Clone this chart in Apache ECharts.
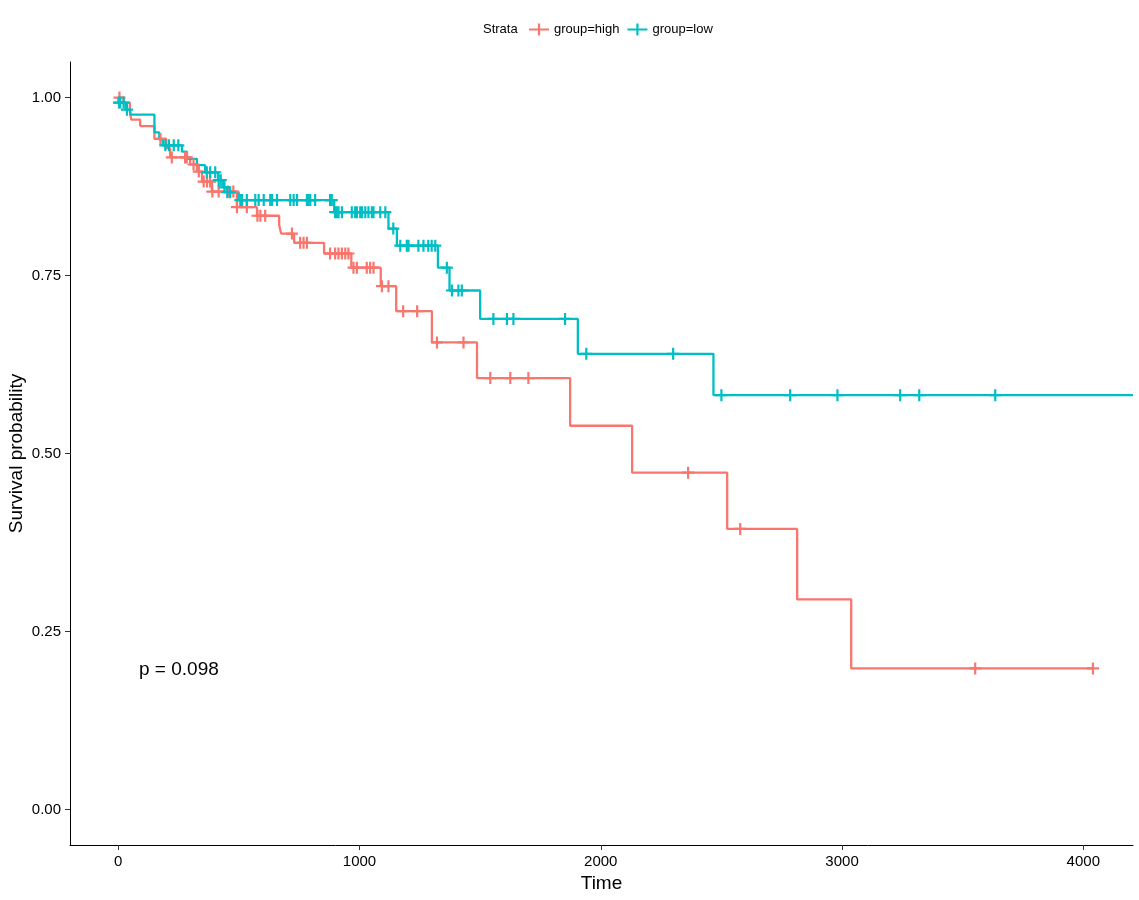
<!DOCTYPE html>
<html>
<head>
<meta charset="utf-8">
<script src="https://cdn.jsdelivr.net/npm/echarts@6/dist/echarts.min.js"></script>
<style>
html,body{margin:0;padding:0;background:#fff;}
#chart{width:1139px;height:900px;}
</style>
</head>
<body>
<div id="chart"></div>
<script>
// ---- data ----
const legendTitle = 'Strata';
const seriesNames = ['group=high', 'group=low'];
const seriesColors = ['#F8766D', '#00BFC4'];
const xTicks = [0, 1000, 2000, 3000, 4000];
const yTicks = [0, 0.25, 0.5, 0.75, 1];
const pText = 'p = 0.098';

// group=high step curve (time, survival after that time)
const highTime = [0, 22, 48, 54, 91, 150, 199, 215, 298, 326, 347, 388, 492, 575, 667, 675, 729, 853, 966, 1088, 1152, 1300, 1487, 1873, 2130, 2524, 2814, 3038, 4040];
const highSurv = [1.0, 0.993, 0.980, 0.969, 0.960, 0.942, 0.929, 0.916, 0.906, 0.896, 0.882, 0.868, 0.846, 0.834, 0.821, 0.809, 0.796, 0.781, 0.761, 0.735, 0.700, 0.656, 0.606, 0.539, 0.473, 0.394, 0.295, 0.198, 0.198];
const highCensor = [5, 175, 222, 277, 284, 312, 334, 354, 368, 381, 390, 416, 456, 477, 492, 533, 577, 589, 609, 720, 754, 768, 782, 878, 899, 913, 927, 941, 954, 975, 989, 1030, 1044, 1058, 1093, 1120, 1181, 1239, 1321, 1431, 1542, 1625, 1700, 2362, 2578, 3552, 4040];

// group=low step curve
const lowTime = [0, 2, 30, 50, 150, 170, 185, 264, 285, 326, 360, 414, 435, 450, 499, 895, 1120, 1155, 1325, 1373, 1500, 1905, 2467, 4206];
const lowSurv = [1.0, 0.993, 0.983, 0.976, 0.951, 0.941, 0.933, 0.924, 0.914, 0.905, 0.895, 0.884, 0.874, 0.867, 0.856, 0.839, 0.816, 0.792, 0.761, 0.729, 0.689, 0.640, 0.582, 0.582];
const lowCensor = [3, 8, 22, 36, 195, 210, 230, 249, 367, 381, 402, 416, 425, 440, 452, 464, 506, 513, 533, 568, 582, 603, 630, 637, 658, 713, 727, 741, 782, 789, 796, 816, 878, 885, 899, 906, 913, 927, 968, 982, 989, 1003, 1010, 1024, 1037, 1051, 1058, 1086, 1107, 1140, 1169, 1196, 1203, 1244, 1265, 1285, 1299, 1314, 1362, 1383, 1410, 1424, 1555, 1611, 1638, 1852, 1940, 2300, 2500, 2785, 2981, 3241, 3320, 3635];

// ---- helpers ----
function stepPoints(times, surv) {
  return times.map((t, i) => [t, surv[i]]);
}
function survAt(times, surv, t) {
  let v = surv[0];
  for (let i = 0; i < times.length; i++) { if (times[i] <= t) v = surv[i]; }
  return v;
}
function censorPoints(cens, times, surv) {
  return cens.map(t => [t, survAt(times, surv, t)]);
}

const plusSymbol = 'path://M0,4.9h12v2.2h-12z M4.9,0h2.2v12h-2.2z';
const legendIcon = 'path://M0,4.9h20v2.2h-20z M8.9,0h2.2v12h-2.2z';
const FONT = '"Liberation Sans", Arial, sans-serif';

const chart = echarts.init(document.getElementById('chart'), null, {renderer: 'canvas'});
chart.setOption({
  animation: false,
  backgroundColor: '#ffffff',
  textStyle: {fontFamily: FONT},
  grid: {left: 70, right: 6, top: 62, bottom: 55, containLabel: false, outerBoundsMode: 'none'},
  legend: {
    data: [
      {name: seriesNames[0], icon: legendIcon},
      {name: seriesNames[1], icon: legendIcon}
    ],
    left: 529, top: 23, padding: 0,
    itemWidth: 20, itemHeight: 12, itemGap: 8,
    textStyle: {fontFamily: FONT, fontSize: 13, color: '#000'}
  },
  graphic: [
    {type: 'text', left: 483, top: 23, style: {text: legendTitle, font: '13px ' + FONT, fill: '#000'}},
    {type: 'text', left: 139, top: 660, style: {text: pText, font: '19px ' + FONT, fill: '#000'}}
  ],
  xAxis: {
    type: 'value', min: -200, max: 4206,
    name: 'Time', nameLocation: 'middle', nameGap: 29, nameMoveOverlap: false,
    nameTextStyle: {fontFamily: FONT, fontSize: 19, color: '#000'},
    axisLine: {show: true, onZero: false, lineStyle: {color: '#000', width: 1}},
    axisTick: {show: true, length: 5, lineStyle: {color: '#333'}, customValues: xTicks},
    axisLabel: {fontFamily: FONT, fontSize: 15, color: '#000', margin: 9, customValues: xTicks,
      formatter: v => String(Math.round(v))},
    splitLine: {show: false}
  },
  yAxis: {
    type: 'value', min: -0.05, max: 1.05,
    name: 'Survival probability', nameLocation: 'middle', nameGap: 44, nameMoveOverlap: false,
    nameTextStyle: {fontFamily: FONT, fontSize: 19, color: '#000'},
    axisLine: {show: true, onZero: false, lineStyle: {color: '#000', width: 1}},
    axisTick: {show: true, length: 5, lineStyle: {color: '#333'}, customValues: yTicks},
    axisLabel: {fontFamily: FONT, fontSize: 15, color: '#000', margin: 9, customValues: yTicks,
      formatter: v => Number(v).toFixed(2)},
    splitLine: {show: false}
  },
  series: [
    {name: seriesNames[0], type: 'line', step: 'end', showSymbol: false, symbol: 'none',
      data: stepPoints(highTime, highSurv), color: seriesColors[0],
      lineStyle: {color: seriesColors[0], width: 2.3}, itemStyle: {color: seriesColors[0]}, z: 2},
    {name: seriesNames[1], type: 'line', step: 'end', showSymbol: false, symbol: 'none',
      data: stepPoints(lowTime, lowSurv), color: seriesColors[1],
      lineStyle: {color: seriesColors[1], width: 2.3}, itemStyle: {color: seriesColors[1]}, z: 3},
    {name: 'high-censor', type: 'scatter', symbol: plusSymbol, symbolSize: 12,
      data: censorPoints(highCensor, highTime, highSurv), itemStyle: {color: seriesColors[0], opacity: 1}, z: 4},
    {name: 'low-censor', type: 'scatter', symbol: plusSymbol, symbolSize: 12,
      data: censorPoints(lowCensor, lowTime, lowSurv), itemStyle: {color: seriesColors[1], opacity: 1}, z: 5}
  ]
});
</script>
</body>
</html>
